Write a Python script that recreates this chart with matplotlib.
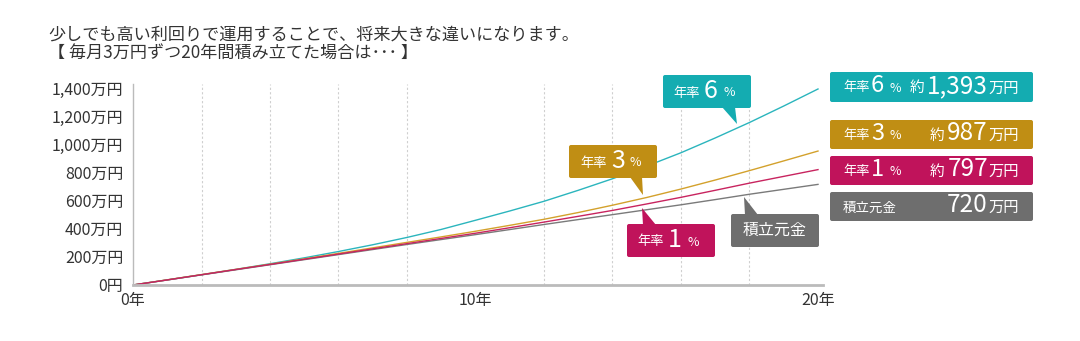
import matplotlib
matplotlib.use('Agg')
import matplotlib.pyplot as plt
from matplotlib.patches import FancyBboxPatch, Polygon

plt.rcParams['font.family'] = ['Noto Sans CJK JP', 'DejaVu Sans']

# values (万円, end of each year)
years = list(range(0, 21))
rate6 = [0, 36, 73, 111, 151, 193, 238, 286, 338, 395, 460, 526, 595, 673, 755, 845, 940, 1045, 1155, 1272, 1393]
rate3 = [0, 37, 74, 111, 148, 186, 225, 264, 303, 342, 382, 424, 467, 515, 567, 622, 682, 746, 813, 882, 952]
rate1 = [0, 36, 73, 110, 146, 183, 220, 257, 294, 331, 368, 407, 447, 488, 530, 576, 623, 673, 724, 772, 820]
principal = [0, 36, 72, 108, 144, 180, 216, 252, 288, 323, 358, 394, 430, 465, 500, 535, 570, 607, 645, 680, 715]

yticks = [0, 200, 400, 600, 800, 1000, 1200, 1400]
xticks = [0, 10, 20]
gridYears = list(range(2, 21, 2))

teal = '#14acb1'
gold = '#c08e14'
crimson = '#c0135b'
gray = '#6e6e6e'
textColor = '#333333'

fig = plt.figure(figsize=(10.8, 3.41), dpi=100)
ax = fig.add_axes([133/1080, 1-285/341, (823-133)/1080, (285-84)/341])

ax.plot(years, rate6, color='#2bb5bd', lw=1.0)
ax.plot(years, rate3, color='#d3a12c', lw=1.0)
ax.plot(years, principal, color='#7a7a7a', lw=1.0)
ax.plot(years, rate1, color='#c8245f', lw=1.0)

ax.set_xlim(0, 20*(823-133)/(818-133))
ax.set_ylim(0, 1400*(285-84)/(285-88))

ax.set_yticks(yticks)
ax.set_yticklabels([('%s万円' % format(v, ',')) if v else '0円' for v in yticks], fontsize=11.5, color=textColor)
ax.set_xticks(xticks)
ax.set_xticklabels(['%d年' % x for x in xticks], fontsize=11.5, color=textColor)
ax.set_xticks(gridYears, minor=True)
ax.tick_params(axis='both', which='both', length=0)
ax.tick_params(axis='y', pad=7)
ax.tick_params(axis='x', pad=5)
ax.grid(True, which='minor', axis='x', color='#cfcfcf', lw=0.8, linestyle=(0, (2, 2)))

for s in ['top', 'right']:
    ax.spines[s].set_visible(False)
ax.spines['left'].set_color('#bbbbbb')
ax.spines['left'].set_linewidth(1.0)
ax.spines['bottom'].set_color('#bbbbbb')
ax.spines['bottom'].set_linewidth(2.0)

fig.text(48/1080, 1-35/341, '少しでも高い利回りで運用することで、将来大きな違いになります。',
         fontsize=12.3, color=textColor, va='center')
fig.text(48/1080, 1-53/341, '【 毎月3万円ずつ20年間積み立てた場合は･･･ 】',
         fontsize=12.3, color=textColor, va='center')

# overlay in pixel coordinates for the callouts
ov = fig.add_axes([0, 0, 1, 1], zorder=5)
ov.set_xlim(0, 1080)
ov.set_ylim(341, 0)
ov.axis('off')


def box(x0, y0, x1, y1, color, tail=None):
    ov.add_patch(FancyBboxPatch((x0, y0), x1-x0, y1-y0,
                                boxstyle='round,pad=0,rounding_size=2', fc=color, ec='none'))
    if tail:
        ov.add_patch(Polygon(tail, closed=True, fc=color, ec='none'))


def rateLabel(x, y, digit, small=9.5, big=18, dOff=31, pOff=50):
    ov.text(x, y + 1, '年率', fontsize=small, color='white', va='center', ha='left')
    ov.text(x+dOff, y - 1, digit, fontsize=big, color='white', va='center', ha='left')
    ov.text(x+pOff, y + 1, '%', fontsize=small-0.5, color='white', va='center', ha='left')


# bubbles on the chart
box(663, 75, 751, 108, teal, [(722, 107), (735, 107), (737, 124)])
rateLabel(673, 92, '6')
box(569, 145, 657, 178, gold, [(630, 177), (642, 177), (643, 195)])
rateLabel(580, 162, '3')
box(627, 224, 715, 257, crimson, [(643, 225), (656, 225), (642, 208)])
rateLabel(637, 241, '1')
box(731, 214, 819, 247, gray, [(745, 215), (758, 215), (744, 197)])
ov.text(775, 230, '積立元金', fontsize=11.5, color='white', va='center', ha='center')

# summary panel on the right
panel = [
    (72, 102, teal, '6', '約', '1,393', 924),
    (120, 149, gold, '3', '約', '987', 944),
    (156, 185, crimson, '1', '約', '797', 944),
    (192, 221, gray, None, '', '720', 944),
]
for y0, y1, color, digit, approx, amount, approxX in panel:
    box(830, y0, 1033, y1, color)
    cy = (y0 + y1) / 2
    if digit:
        rateLabel(843, cy, digit, small=9.5, big=17, dOff=28, pOff=46)
    else:
        ov.text(843, cy + 1, '積立元金', fontsize=9.7, color='white', va='center', ha='left')
    if approx:
        ov.text(approxX, cy + 1, approx, fontsize=10.5, color='white', va='center', ha='right')
    ov.text(988, cy - 1, amount, fontsize=17.5, color='white', va='center', ha='right')
    ov.text(988, cy + 1, '万円', fontsize=11, color='white', va='center', ha='left')

fig.savefig('out.png', dpi=100)
